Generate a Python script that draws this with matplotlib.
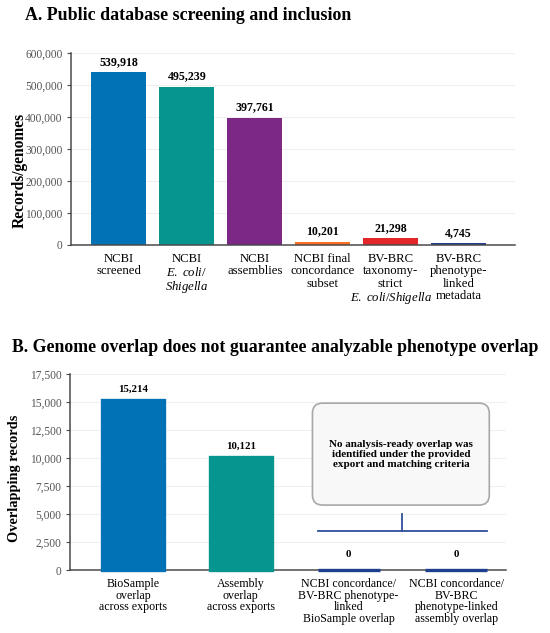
import numpy as np
import matplotlib
matplotlib.use("Agg")
import matplotlib.pyplot as plt
from matplotlib.patches import FancyBboxPatch
from matplotlib.ticker import FuncFormatter

plt.rcParams["font.family"] = ["Liberation Serif", "DejaVu Serif"]
plt.rcParams["mathtext.fontset"] = "custom"
plt.rcParams["mathtext.rm"] = "Liberation Serif"
plt.rcParams["mathtext.it"] = "Liberation Serif:italic"

# --- panel A data ---
a_labels = ["NCBI\nscreened", "NCBI\n$\\it{E.\\ coli/}$\n$\\it{Shigella}$", "NCBI\nassemblies",
            "NCBI final\nconcordance\nsubset",
            "BV-BRC\ntaxonomy-\nstrict\n$\\it{E.\\ coli/Shigella}$",
            "BV-BRC\nphenotype-\nlinked\nmetadata"]
a_values = [539918, 495239, 397761, 10201, 21298, 4745]
a_colors = ["#0172b6", "#07968f", "#7b2886", "#fb6f22", "#e2262a", "#1e3f8f"]

# --- panel B data ---
b_labels = ["BioSample\noverlap\nacross exports", "Assembly\noverlap\nacross exports",
            "NCBI concordance/\nBV-BRC phenotype-\nlinked\nBioSample overlap",
            "NCBI concordance/\nBV-BRC\nphenotype-linked\nassembly overlap"]
b_values = [15214, 10121, 0, 0]
b_colors = ["#0172b6", "#07968f", "#1e3f8f", "#1e3f8f"]
b_note = "No analysis-ready overlap was\nidentified under the provided\nexport and matching criteria"

GRID = "#efefef"
TICK = "#555555"
SPINE = "#4a4a4a"
fmt = FuncFormatter(lambda v, p: f"{int(v):,}")


def style(ax, xsize):
    for s in ("top", "right"):
        ax.spines[s].set_visible(False)
    for s in ("left", "bottom"):
        ax.spines[s].set_color(SPINE)
        ax.spines[s].set_linewidth(1.1)
    ax.yaxis.grid(True, color=GRID, lw=0.8)
    ax.set_axisbelow(True)
    ax.tick_params(axis="y", colors=TICK, labelsize=8.3, length=3, pad=3)
    ax.tick_params(axis="y", color=SPINE)
    ax.tick_params(axis="x", length=0, labelsize=xsize, pad=6)
    ax.yaxis.set_major_formatter(fmt)


def fit_title(fig, x, y, text, width_px):
    # shrink/grow a title so it spans the same width as in the reference
    t = fig.text(x, y, text, fontsize=12, fontweight="bold", va="center")
    r = fig.canvas.get_renderer()
    w = t.get_window_extent(renderer=r).width
    t.set_fontsize(12 * width_px / w)
    return t


fig = plt.figure(figsize=(5.5, 6.33), dpi=100)

# ---------------- A ----------------
ax = fig.add_axes([0.129, 0.613, 0.807, 0.303])
x = np.arange(len(a_values))
ax.bar(x, a_values, width=0.81, color=a_colors, zorder=2)
for xi, v in zip(x, a_values):
    ax.annotate(f"{v:,}", (xi, v), xytext=(0, 3), textcoords="offset points",
                ha="center", va="bottom", fontsize=8.6, fontweight="bold")
ax.set_ylim(0, 600000)
ax.set_yticks(np.arange(0, 600001, 100000))
ax.set_xlim(-0.707, 5.83)
ax.set_xticks(x)
ax.set_xticklabels(a_labels, va="top", linespacing=1.02)
ax.set_ylabel("Records/genomes", fontsize=11.2, fontweight="bold")
ax.yaxis.set_label_coords(-0.098, 0.39)
style(ax, 9.2)
fit_title(fig, 25 / 550, 1 - 15 / 633, "A. Public database screening and inclusion", 323)

# ---------------- B ----------------
ax2 = fig.add_axes([0.127, 0.0995, 0.793, 0.3096])
x = np.arange(len(b_values))
ax2.bar(x, b_values, width=0.575, color=b_colors, edgecolor=b_colors, linewidth=2.4,
        zorder=3, clip_on=False)
for xi, v in zip(x, b_values):
    off = 4 if v > 0 else 8
    ax2.annotate(f"{v:,}", (xi, v), xytext=(0, off), textcoords="offset points",
                 ha="center", va="bottom", fontsize=7.8, fontweight="bold")
ax2.set_ylim(0, 17500)
ax2.set_yticks(np.arange(0, 17501, 2500))
ax2.set_xlim(-0.585, 3.46)
ax2.set_xticks(x)
ax2.set_xticklabels(b_labels, va="top", linespacing=0.95)
ax2.set_ylabel("Overlapping records", fontsize=10.4, fontweight="bold")
ax2.yaxis.set_label_coords(-0.113, 0.47)
style(ax2, 8.6)

# bracket over the two zero bars
ax2.plot([1.72, 3.28], [3500, 3500], color="#2e4f9a", lw=1.3, zorder=3)
ax2.plot([2.5, 2.5], [3500, 5000], color="#2e4f9a", lw=1.3, zorder=3)
# rounded note box; aspect keeps the corners round in data units
px_per_x = 0.793 * 550 / (3.46 + 0.585)
px_per_y = 0.3096 * 633 / 17500
box = FancyBboxPatch((1.665, 5800), 1.64, 9100,
                     boxstyle="round,pad=0,rounding_size=%.3f" % (10 / px_per_x),
                     mutation_aspect=px_per_x / px_per_y, facecolor="#f8f8f8",
                     edgecolor="#a8a8a8", lw=1.2, zorder=3)
ax2.add_patch(box)
ax2.text(2.49, 10300, b_note, ha="center", va="center", fontsize=8,
         fontweight="bold", zorder=4, linespacing=1.1)
fit_title(fig, 12 / 550, 1 - 348 / 633,
          "B. Genome overlap does not guarantee analyzable phenotype overlap", 521)

fig.savefig("out.png", dpi=100)
